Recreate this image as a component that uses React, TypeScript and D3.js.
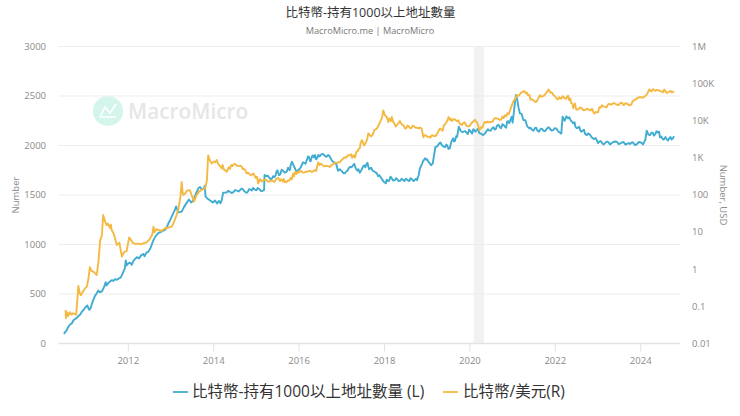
import * as d3 from "d3"

const title = "比特幣-持有1000以上地址數量"
const subtitle = "MacroMicro.me | MacroMicro"
const seriesNames = ["比特幣-持有1000以上地址數量 (L)", "比特幣/美元(R)"]

const leftTicks = [0, 500, 1000, 1500, 2000, 2500, 3000]
const rightTicks = [0.01, 0.1, 1, 10, 100, 1000, 10000, 100000, 1000000]
const rightLabels = ["0.01", "0.1", "1", "10", "100", "1K", "10K", "100K", "1M"]
const yearTicks = [2012, 2014, 2016, 2018, 2020, 2022, 2024]
const recession = [2020.09, 2020.33]

// decimal years
const addrYears = [
  2010.49, 2010.55, 2010.6, 2010.63, 2010.68, 2010.72, 2010.75, 2010.8, 2010.84, 2010.87, 2010.92, 2010.96, 2011.01, 2011.04, 2011.07, 2011.09,
  2011.12, 2011.15, 2011.18, 2011.22, 2011.27, 2011.3, 2011.33, 2011.38, 2011.42, 2011.45, 2011.47, 2011.49, 2011.53, 2011.57, 2011.61, 2011.65,
  2011.69, 2011.73, 2011.77, 2011.82, 2011.86, 2011.92, 2011.94, 2011.96, 2012.0, 2012.04, 2012.08, 2012.12, 2012.16, 2012.2, 2012.25, 2012.3,
  2012.35, 2012.38, 2012.42, 2012.47, 2012.52, 2012.59, 2012.64, 2012.7, 2012.75, 2012.8, 2012.86, 2012.9, 2012.94, 2012.98, 2013.03, 2013.09,
  2013.12, 2013.17, 2013.25, 2013.3, 2013.37, 2013.42, 2013.47, 2013.52, 2013.58, 2013.64, 2013.68, 2013.72, 2013.77, 2013.79, 2013.81, 2013.85,
  2013.9, 2013.98, 2014.03, 2014.08, 2014.12, 2014.16, 2014.19, 2014.22, 2014.3, 2014.38, 2014.46, 2014.54, 2014.62, 2014.68, 2014.74, 2014.8,
  2014.86, 2014.92, 2015.0, 2015.07, 2015.15, 2015.18, 2015.19, 2015.24, 2015.3, 2015.36, 2015.42, 2015.47, 2015.51, 2015.56, 2015.62, 2015.71,
  2015.76, 2015.8, 2015.85, 2015.89, 2015.94, 2016.0, 2016.06, 2016.12, 2016.18, 2016.23, 2016.27, 2016.32, 2016.37, 2016.4, 2016.45, 2016.52,
  2016.6, 2016.68, 2016.74, 2016.8, 2016.87, 2016.95, 2017.01, 2017.07, 2017.13, 2017.2, 2017.27, 2017.32, 2017.37, 2017.42, 2017.48, 2017.53,
  2017.58, 2017.62, 2017.66, 2017.72, 2017.82, 2017.88, 2017.94, 2018.03, 2018.08, 2018.12, 2018.17, 2018.24, 2018.3, 2018.37, 2018.44, 2018.5,
  2018.58, 2018.64, 2018.71, 2018.76, 2018.8, 2018.83, 2018.88, 2018.95, 2019.0, 2019.05, 2019.13, 2019.16, 2019.19, 2019.22, 2019.28, 2019.34,
  2019.42, 2019.47, 2019.53, 2019.56, 2019.61, 2019.65, 2019.7, 2019.72, 2019.74, 2019.78, 2019.85, 2019.92, 2019.98, 2020.05, 2020.1, 2020.16,
  2020.22, 2020.31, 2020.38, 2020.45, 2020.52, 2020.58, 2020.63, 2020.7, 2020.76, 2020.82, 2020.87, 2020.92, 2020.98, 2021.0, 2021.02, 2021.06,
  2021.08, 2021.11, 2021.14, 2021.17, 2021.21, 2021.25, 2021.3, 2021.34, 2021.39, 2021.45, 2021.52, 2021.58, 2021.65, 2021.72, 2021.8, 2021.87,
  2021.95, 2022.03, 2022.11, 2022.14, 2022.17, 2022.22, 2022.26, 2022.3, 2022.36, 2022.42, 2022.47, 2022.53, 2022.58, 2022.64, 2022.7, 2022.77,
  2022.84, 2022.9, 2022.97, 2023.03, 2023.09, 2023.16, 2023.24, 2023.32, 2023.44, 2023.52, 2023.6, 2023.68, 2023.75, 2023.82, 2023.9, 2024.02,
  2024.07, 2024.11, 2024.14, 2024.18, 2024.22, 2024.28, 2024.34, 2024.39, 2024.43, 2024.45, 2024.5, 2024.55, 2024.61, 2024.67, 2024.72, 2024.78,
]
const addrValues = [
  98, 130, 172, 189, 205, 238, 246, 262, 282, 290, 325, 345, 373, 385, 352, 340,
  360, 405, 441, 480, 515, 535, 518, 525, 560, 592, 620, 585, 610, 626, 640, 632,
  650, 643, 655, 666, 700, 761, 840, 790, 810, 817, 795, 835, 855, 872, 860, 890,
  905, 880, 915, 928, 965, 1046, 1085, 1114, 1125, 1135, 1147, 1170, 1215, 1248, 1295, 1349,
  1385, 1325, 1332, 1375, 1423, 1455, 1425, 1443, 1510, 1568, 1580, 1555, 1568, 1590, 1483, 1465,
  1450, 1423, 1445, 1415, 1440, 1417, 1450, 1524, 1525, 1532, 1528, 1545, 1551, 1560, 1530, 1534,
  1555, 1571, 1548, 1560, 1544, 1550, 1702, 1690, 1675, 1662, 1680, 1735, 1725, 1710, 1745, 1735,
  1760, 1795, 1820, 1780, 1735, 1760, 1800, 1825, 1853, 1885, 1840, 1900, 1904, 1860, 1905, 1910,
  1895, 1904, 1870, 1836, 1810, 1760, 1735, 1719, 1745, 1785, 1803, 1775, 1745, 1725, 1770, 1800,
  1813, 1790, 1770, 1745, 1719, 1700, 1660, 1618, 1640, 1660, 1669, 1650, 1660, 1645, 1652, 1665,
  1640, 1660, 1652, 1650, 1700, 1770, 1815, 1871, 1860, 1825, 1820, 1900, 1985, 1988, 2020, 2005,
  1985, 2000, 1972, 2030, 2072, 2045, 2088, 2140, 2190, 2150, 2140, 2129, 2160, 2120, 2155, 2156,
  2125, 2105, 2140, 2150, 2175, 2160, 2197, 2185, 2215, 2190, 2240, 2225, 2291, 2230, 2300, 2459,
  2510, 2459, 2380, 2325, 2320, 2257, 2255, 2195, 2173, 2160, 2175, 2150, 2165, 2149, 2170, 2173,
  2155, 2170, 2129, 2120, 2291, 2250, 2295, 2274, 2255, 2224, 2190, 2180, 2156, 2150, 2115, 2122,
  2090, 2065, 2055, 2040, 2030, 2022, 2035, 2025, 2038, 2020, 2035, 2015, 2015, 2030, 2010, 2028,
  2025, 2060, 2149, 2110, 2105, 2130, 2115, 2132, 2140, 2082, 2075, 2065, 2062, 2075, 2060, 2095,
]

// second pass over the picture, between the readings above
const addrYears2 = [
  2014.34, 2014.42, 2014.5, 2014.58, 2014.65, 2014.71, 2014.77, 2014.83, 2014.89, 2014.96, 2015.03, 2015.11, 2015.27, 2015.33, 2015.39, 2015.45,
  2015.49, 2015.53, 2015.59, 2015.66, 2015.74, 2015.78, 2015.83, 2016.03, 2016.09, 2016.15, 2016.21, 2016.25, 2016.3, 2016.35, 2016.43, 2016.48,
  2016.56, 2016.64, 2016.71, 2016.77, 2016.84, 2016.91, 2016.98, 2017.04, 2017.1, 2017.16, 2017.23, 2017.29, 2017.35, 2017.39, 2017.45, 2017.5,
  2017.55, 2017.6, 2017.64, 2017.69, 2017.77, 2017.85, 2017.91, 2017.98, 2018.05, 2018.1, 2018.14, 2018.2, 2018.27, 2018.33, 2018.4, 2018.47,
  2018.54, 2018.61, 2018.68, 2018.74, 2018.9, 2018.98, 2019.03, 2019.09, 2019.25, 2019.31, 2019.38, 2019.45, 2019.5, 2019.59, 2019.63, 2019.68,
  2019.76, 2019.82, 2019.89, 2019.95, 2020.02, 2020.08, 2020.13, 2020.19, 2020.26, 2020.35, 2020.42, 2020.49, 2020.55, 2020.61, 2020.67, 2020.73,
  2020.79, 2020.85, 2020.9, 2021.42, 2021.49, 2021.55, 2021.62, 2021.69, 2021.76, 2021.84, 2021.91, 2021.99, 2022.07, 2022.33, 2022.39, 2022.45,
  2022.5, 2022.56, 2022.61, 2022.67, 2022.74, 2022.81, 2022.87, 2022.94, 2023.0, 2023.06, 2023.13, 2023.2, 2023.28, 2023.38, 2023.48, 2023.56,
  2023.64, 2023.72, 2023.79, 2023.86, 2023.96, 2024.05, 2024.25, 2024.31, 2024.37, 2024.48, 2024.53, 2024.58, 2024.64, 2024.7, 2024.75,
]
const addrValues2 = [
  1542, 1520, 1550, 1535, 1565, 1540, 1522, 1560, 1545, 1555, 1570, 1538, 1695, 1660, 1690, 1700,
  1750, 1700, 1755, 1725, 1775, 1750, 1835, 1775, 1830, 1815, 1890, 1850, 1890, 1880, 1880, 1890,
  1915, 1885, 1895, 1845, 1825, 1745, 1750, 1720, 1735, 1770, 1780, 1815, 1755, 1760, 1745, 1790,
  1780, 1825, 1760, 1775, 1735, 1690, 1680, 1635, 1655, 1640, 1685, 1645, 1670, 1640, 1665, 1640,
  1650, 1670, 1640, 1665, 1840, 1855, 1835, 1800, 2000, 2030, 1990, 2010, 1965, 2060, 2040, 2095,
  2170, 2135, 2145, 2115, 2140, 2165, 2140, 2170, 2120, 2120, 2165, 2150, 2185, 2170, 2210, 2175,
  2205, 2180, 2245, 2180, 2150, 2180, 2140, 2170, 2145, 2185, 2150, 2175, 2140, 2285, 2240, 2235,
  2175, 2190, 2140, 2160, 2105, 2110, 2075, 2075, 2025, 2045, 2010, 2040, 2010, 2040, 2015, 2030,
  2010, 2025, 2030, 2005, 2035, 2010, 2130, 2100, 2145, 2090, 2060, 2085, 2050, 2085, 2070,
]

const btcYears = [
  2010.53, 2010.54, 2010.56, 2010.59, 2010.63, 2010.67, 2010.71, 2010.75, 2010.78, 2010.83, 2010.86, 2010.89, 2010.94, 2010.98, 2011.03, 2011.07,
  2011.1, 2011.14, 2011.19, 2011.26, 2011.3, 2011.34, 2011.38, 2011.41, 2011.44, 2011.49, 2011.52, 2011.57, 2011.59, 2011.61, 2011.66, 2011.73, 2011.79,
  2011.85, 2011.9, 2011.96, 2012.02, 2012.06, 2012.11, 2012.16, 2012.22, 2012.3, 2012.37, 2012.43, 2012.5, 2012.56, 2012.59, 2012.61, 2012.65, 2012.7,
  2012.78, 2012.85, 2012.94, 2013.02, 2013.08, 2013.13, 2013.18, 2013.22, 2013.25, 2013.27, 2013.29, 2013.33, 2013.37, 2013.44, 2013.49, 2013.54,
  2013.59, 2013.66, 2013.73, 2013.8, 2013.84, 2013.87, 2013.9, 2013.95, 2014.01, 2014.07, 2014.13, 2014.19, 2014.24, 2014.3, 2014.35, 2014.41,
  2014.46, 2014.54, 2014.62, 2014.68, 2014.73, 2014.77, 2014.83, 2014.93, 2014.98, 2015.04, 2015.08, 2015.13, 2015.24, 2015.33, 2015.42, 2015.48,
  2015.55, 2015.62, 2015.67, 2015.74, 2015.8, 2015.86, 2015.91, 2015.97, 2016.02, 2016.08, 2016.16, 2016.25, 2016.37, 2016.42, 2016.45, 2016.48,
  2016.53, 2016.6, 2016.68, 2016.76, 2016.85, 2016.96, 2017.03, 2017.09, 2017.14, 2017.19, 2017.24, 2017.31, 2017.37, 2017.42, 2017.47, 2017.52,
  2017.56, 2017.62, 2017.68, 2017.73, 2017.79, 2017.85, 2017.9, 2017.94, 2017.97, 2018.01, 2018.05, 2018.09, 2018.13, 2018.17, 2018.23, 2018.29,
  2018.33, 2018.36, 2018.42, 2018.48, 2018.54, 2018.6, 2018.66, 2018.72, 2018.78, 2018.83, 2018.87, 2018.91, 2018.97, 2019.04, 2019.11, 2019.2,
  2019.3, 2019.36, 2019.42, 2019.47, 2019.5, 2019.53, 2019.58, 2019.65, 2019.7, 2019.76, 2019.81, 2019.88, 2019.96, 2020.02, 2020.07, 2020.12,
  2020.17, 2020.2, 2020.22, 2020.26, 2020.31, 2020.35, 2020.42, 2020.5, 2020.56, 2020.63, 2020.7, 2020.76, 2020.82, 2020.88, 2020.94, 2020.98,
  2021.02, 2021.06, 2021.1, 2021.14, 2021.2, 2021.27, 2021.31, 2021.36, 2021.42, 2021.49, 2021.55, 2021.6, 2021.64, 2021.7, 2021.76, 2021.84,
  2021.89, 2021.95, 2022.02, 2022.07, 2022.11, 2022.17, 2022.22, 2022.27, 2022.32, 2022.37, 2022.42, 2022.46, 2022.52, 2022.58, 2022.66, 2022.74,
  2022.8, 2022.86, 2022.91, 2022.97, 2023.03, 2023.09, 2023.16, 2023.24, 2023.3, 2023.36, 2023.44, 2023.52, 2023.6, 2023.68, 2023.75, 2023.81,
  2023.86, 2023.91, 2023.97, 2024.04, 2024.1, 2024.15, 2024.2, 2024.25, 2024.32, 2024.38, 2024.45, 2024.52, 2024.57, 2024.61, 2024.67, 2024.73, 2024.78,
]
const btcValues = [
  0.08, 0.048, 0.07, 0.055, 0.07, 0.06, 0.065, 0.062, 0.06, 0.356, 0.23, 0.2, 0.25, 0.3, 0.34, 0.6,
  1.13, 0.9, 0.85, 0.7, 1.6, 6, 8, 29, 22, 15.5, 17, 13, 16, 11.4, 9, 4.5, 5.2,
  2.2, 2.9, 3.1, 7.2, 6.2, 5.1, 4.8, 4.9, 4.7, 5.1, 5.3, 6.5, 8.5, 14, 9.8, 12, 11.4,
  10.7, 12.5, 13.3, 14, 20, 29, 45, 90, 224, 120, 100, 110, 130, 135, 95, 66,
  95, 125, 140, 151, 250, 1170, 900, 710, 800, 870, 640, 520, 480, 420, 560, 640,
  660, 620, 617, 500, 480, 380, 370, 380, 290, 205, 270, 230, 250, 240, 225, 282,
  240, 230, 219, 250, 290, 380, 420, 430, 447, 400, 420, 450, 468, 590, 760, 640,
  670, 590, 600, 640, 740, 780, 950, 1010, 1180, 1170, 1000, 1023, 1500, 1800, 3000, 2200,
  2600, 4570, 3800, 4400, 5800, 7100, 9500, 12000, 19000, 14000, 12500, 9300, 10500, 12600, 8500, 7600,
  8800, 9800, 7700, 6200, 7500, 6300, 7300, 6600, 6400, 6600, 6200, 3600, 4000, 3700, 4100, 3900,
  6200, 5400, 8000, 10000, 12600, 10500, 9800, 10800, 9800, 8400, 7600, 9000, 7100, 8000, 9500, 10700,
  8800, 7000, 5500, 6700, 7300, 9300, 9500, 9400, 11000, 11500, 10500, 13000, 14000, 16000, 19000, 26000,
  34000, 38000, 49000, 47000, 57000, 63000, 55000, 49000, 37000, 35000, 32000, 40000, 49000, 46000, 51000, 69000,
  57000, 50000, 42000, 38000, 41000, 46000, 40000, 44000, 36000, 30000, 22000, 29000, 20000, 23000, 19000, 21000,
  19500, 21000, 15500, 17000, 23000, 26000, 24000, 28000, 27000, 30000, 27000, 30000, 26000, 29000, 26000, 34000,
  37000, 40000, 43000, 42000, 46000, 52000, 70000, 62000, 67000, 68000, 63000, 58000, 65000, 56000, 60000, 58000, 63000,
]

const btcYears2 = [
  2014.04, 2014.1, 2014.16, 2014.21, 2014.27, 2014.32, 2014.38, 2014.44, 2014.5, 2014.58, 2014.65, 2014.7, 2014.75, 2014.8, 2014.88, 2014.95,
  2015.01, 2015.06, 2015.1, 2015.18, 2015.28, 2015.37, 2015.45, 2015.51, 2015.58, 2015.64, 2015.71, 2015.77, 2015.83, 2015.88, 2015.94, 2016.0,
  2016.05, 2016.12, 2016.2, 2016.3, 2016.4, 2016.5, 2016.56, 2016.64, 2016.72, 2016.8, 2016.9, 2017.0, 2017.06, 2017.12, 2017.22, 2017.28,
  2017.34, 2017.39, 2017.44, 2017.5, 2017.54, 2017.59, 2017.65, 2017.71, 2017.76, 2017.82, 2018.03, 2018.07, 2018.11, 2018.15, 2018.2, 2018.26,
  2018.31, 2018.39, 2018.45, 2018.51, 2018.57, 2018.63, 2018.69, 2018.75, 2018.81, 2018.93, 2019.0, 2019.07, 2019.15, 2019.25, 2019.33, 2019.39,
  2019.55, 2019.61, 2019.67, 2019.73, 2019.78, 2019.84, 2019.92, 2019.99, 2020.04, 2020.09, 2020.14, 2020.28, 2020.33, 2020.38, 2020.46, 2020.53,
  2020.59, 2020.66, 2020.73, 2020.79, 2020.85, 2020.91, 2021.33, 2021.39, 2021.45, 2021.52, 2021.57, 2021.67, 2021.73, 2021.79, 2021.87, 2021.92,
  2021.98, 2022.04, 2022.09, 2022.14, 2022.2, 2022.25, 2022.3, 2022.35, 2022.4, 2022.49, 2022.55, 2022.62, 2022.7, 2022.77, 2022.83, 2022.94,
  2023.0, 2023.06, 2023.13, 2023.2, 2023.27, 2023.33, 2023.4, 2023.48, 2023.56, 2023.64, 2023.72, 2023.78, 2023.84, 2023.89, 2023.94, 2024.01,
  2024.07, 2024.12, 2024.23, 2024.29, 2024.35, 2024.42, 2024.49, 2024.55, 2024.59, 2024.64, 2024.7, 2024.76,
]
const btcValues2 = [
  760, 700, 580, 640, 470, 450, 500, 600, 690, 600, 590, 510, 440, 400, 340, 350,
  310, 230, 255, 260, 225, 245, 255, 290, 265, 270, 225, 245, 265, 320, 370, 400,
  445, 405, 430, 415, 445, 700, 620, 610, 570, 680, 740, 880, 1030, 1090, 1250, 1180,
  1450, 1700, 2500, 2500, 2300, 3000, 4200, 4000, 5600, 6200, 13500, 11000, 11500, 9800, 9500, 7000,
  8200, 8400, 7400, 6300, 6900, 6400, 7100, 6500, 6300, 4100, 3700, 3500, 3900, 4900, 5800, 7600,
  11500, 11000, 10300, 10300, 8200, 8800, 7300, 7200, 8700, 9800, 9700, 6400, 8700, 8900, 9100, 9300,
  11800, 11400, 10800, 11800, 13100, 15000, 58000, 50000, 38000, 33000, 34000, 44000, 47000, 57000, 62000, 58000,
  47000, 38000, 43000, 39000, 43000, 39000, 47000, 40000, 29000, 20000, 21000, 21500, 19500, 20500, 19000, 17000,
  16800, 22500, 24000, 23000, 28500, 28000, 29000, 26500, 30500, 29500, 26500, 27500, 35000, 38000, 42000, 43000,
  43000, 48000, 64000, 71000, 64000, 66000, 62000, 69000, 60000, 59000, 64000, 60000,
]

const width = 740
const height = 416
const margin = { top: 46.5, right: 60, bottom: 72.5, left: 58.5 }
const plotBottom = height - margin.bottom
const plotRight = width - margin.right

const font = '"Open Sans", "Noto Sans CJK TC", sans-serif'
const blue = "#41acd1"
const orange = "#f4b942"
const gridColor = "#ededed"

const x = d3.scaleLinear().domain([2010.365, 2024.92]).range([margin.left, plotRight])
const yLeft = d3.scaleLinear().domain([0, 3000]).range([plotBottom, margin.top])
const yRight = d3.scaleLog().domain([0.01, 1000000]).range([plotBottom, margin.top])

// both passes of readings, in date order
const merged = (years: number[], values: number[], years2: number[], values2: number[]) =>
  d3.sort(
    [...d3.zip(years, values), ...d3.zip(years2, values2)],
    (d) => d[0],
  )

const addrLine = d3
  .line<number[]>()
  .x((d) => x(d[0]))
  .y((d) => yLeft(d[1]))
const btcLine = d3
  .line<number[]>()
  .x((d) => x(d[0]))
  .y((d) => yRight(d[1]))

export default function App() {
  return (
    <svg
      width={width}
      height={height}
      viewBox={`0 0 ${width} ${height}`}
      style={{ position: "absolute", left: 0, top: 0, fontFamily: font }}
    >
      <rect width={width} height={height} fill="#fff" />
      <text x={370.5} y={17} textAnchor="middle" fontSize={12.5} fill="#333">{title}</text>
      <text x={370} y={34} textAnchor="middle" fontSize={9.2} fill="#777">{subtitle}</text>

      {/* watermark */}
      <g>
        <circle cx={108} cy={111} r={15} fill="#d4f5ec" />
        <path d="M100 117 L105 107 L110 113 L116 104 M100 117 L116 117" fill="none" stroke="#fff" strokeWidth={1.6} />
        <text x={128} y={118.5} fontSize={20.8} fontWeight={600} fill="#e6e6e6">MacroMicro</text>
      </g>

      <rect
        x={x(recession[0])}
        y={margin.top}
        width={x(recession[1]) - x(recession[0])}
        height={plotBottom - margin.top}
        fill="#f2f2f2"
      />

      {leftTicks.slice(1).map((t) => (
        <line key={t} x1={margin.left} x2={plotRight} y1={yLeft(t)} y2={yLeft(t)} stroke={gridColor} strokeWidth={1} />
      ))}
      <line x1={margin.left} x2={plotRight} y1={plotBottom} y2={plotBottom} stroke="#e3e3e3" strokeWidth={1.5} />

      {yearTicks.map((t) => (
        <g key={t}>
          <line x1={x(t)} x2={x(t)} y1={plotBottom} y2={plotBottom + 8} stroke="#e3e3e3" />
          <text x={x(t)} y={364} textAnchor="middle" fontSize={9.5} fill="#8a8a8a">{t}</text>
        </g>
      ))}

      {leftTicks.map((t) => (
        <text key={t} x={46} y={yLeft(t) + 3.3} textAnchor="end" fontSize={9.5} fill="#8a8a8a">{t}</text>
      ))}
      {rightTicks.map((t, i) => (
        <text key={t} x={692} y={yRight(t) + 3.3} fontSize={9.5} fill="#8a8a8a">{rightLabels[i]}</text>
      ))}

      <text transform="translate(19,195) rotate(-90)" textAnchor="middle" fontSize={9.5} fill="#8a8a8a">Number</text>
      <text transform="translate(720,195) rotate(90)" textAnchor="middle" fontSize={9.5} fill="#8a8a8a">Number, USD</text>

      <path d={addrLine(merged(addrYears, addrValues, addrYears2, addrValues2)) ?? ""} fill="none" stroke={blue} strokeWidth={1.9} strokeLinejoin="round" />
      <path d={btcLine(merged(btcYears, btcValues, btcYears2, btcValues2)) ?? ""} fill="none" stroke={orange} strokeWidth={1.9} strokeLinejoin="round" />

      {/* legend */}
      <line x1={173} x2={188} y1={392} y2={392} stroke={blue} strokeWidth={1.8} />
      <text x={192} y={397} fontSize={15.5} fill="#333">{seriesNames[0]}</text>
      <line x1={443} x2={458} y1={392} y2={392} stroke={orange} strokeWidth={1.8} />
      <text x={463} y={397} fontSize={15.5} fill="#333">{seriesNames[1]}</text>
    </svg>
  )
}
